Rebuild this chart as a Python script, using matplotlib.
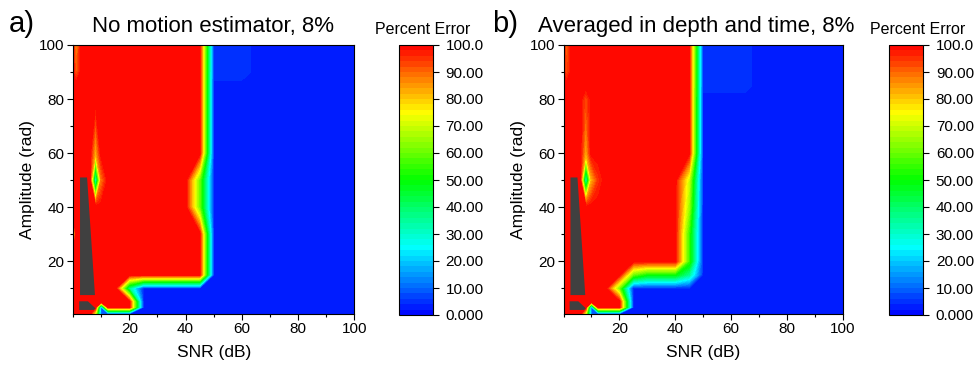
import numpy as np
import matplotlib
matplotlib.use("Agg")
import matplotlib.pyplot as plt
from matplotlib.colors import LinearSegmentedColormap
from matplotlib.ticker import MultipleLocator

plt.rcParams['font.family'] = ['Liberation Sans', 'DejaVu Sans']

# ---------------- data ----------------
snr = [0, 1, 3, 6, 8, 10, 12.5, 15, 20, 25, 30, 40, 45, 50, 60, 65, 70, 100]
amplitude = [0.5, 3, 5, 10, 15, 20, 30, 40, 50, 60, 80, 85, 90, 100]

# Percent error, panel a) (rows = amplitude, columns = SNR)
error_a = [
    [100, 100, 100, 100, 70, 10, 3.6, 3.6, 3.6, 3.6, 3.6, 3.6, 3.6, 3.6, 3.6, 3.6, 3.6, 3.6],
    [100, 100, 100, 100, 100, 10, 100, 100, 100, 3.6, 3.6, 3.6, 3.6, 3.6, 3.6, 3.6, 3.6, 3.6],
    [100, 100, 100, 100, 100, 100, 100, 100, 100, 3.6, 3.6, 3.6, 3.6, 3.6, 3.6, 3.6, 3.6, 3.6],
    [100, 100, 100, 100, 100, 100, 100, 100, 35, 3.6, 3.6, 3.6, 3.6, 3.6, 3.6, 3.6, 3.6, 3.6],
    [100, 100, 100, 100, 100, 100, 100, 100, 100, 100, 100, 100, 100, 3.6, 3.6, 3.6, 3.6, 3.6],
    [100, 100, 100, 100, 100, 100, 100, 100, 100, 100, 100, 100, 100, 3.6, 3.6, 3.6, 3.6, 3.6],
    [60, 100, 100, 100, 100, 100, 100, 100, 100, 100, 100, 100, 100, 3.6, 3.6, 3.6, 3.6, 3.6],
    [100, 100, 100, 100, 100, 100, 100, 100, 100, 100, 100, 100, 60, 3.6, 3.6, 3.6, 3.6, 3.6],
    [100, 100, 100, 100, 25, 88, 100, 100, 100, 100, 100, 100, 60, 3.6, 3.6, 3.6, 3.6, 3.6],
    [100, 100, 100, 100, 82, 100, 100, 100, 100, 100, 100, 100, 100, 3.6, 3.6, 3.6, 3.6, 3.6],
    [100, 100, 100, 100, 100, 100, 100, 100, 100, 100, 100, 100, 100, 3.6, 3.6, 3.6, 3.6, 3.6],
    [100, 100, 100, 100, 100, 100, 100, 100, 100, 100, 100, 100, 100, 3.6, 3.6, 3.6, 3.6, 3.6],
    [100, 90, 100, 100, 100, 100, 100, 100, 100, 100, 100, 100, 100, 4.6, 4.6, 3.6, 3.6, 3.6],
    [100, 85, 100, 100, 100, 100, 100, 100, 100, 100, 100, 100, 100, 4.6, 4.6, 3.6, 3.6, 3.6],
]

# Percent error, panel b)
error_b = [
    [100, 100, 100, 100, 70, 10, 3.6, 3.6, 3.6, 3.6, 3.6, 3.6, 3.6, 3.6, 3.6, 3.6, 3.6, 3.6],
    [100, 100, 100, 100, 100, 10, 100, 100, 100, 3.6, 3.6, 3.6, 3.6, 3.6, 3.6, 3.6, 3.6, 3.6],
    [100, 100, 100, 100, 100, 100, 100, 100, 100, 3.6, 3.6, 3.6, 3.6, 3.6, 3.6, 3.6, 3.6, 3.6],
    [100, 100, 100, 100, 100, 100, 100, 100, 60, 3.6, 3.6, 3.6, 3.6, 3.6, 3.6, 3.6, 3.6, 3.6],
    [100, 100, 100, 100, 100, 100, 100, 100, 100, 60, 50, 50, 35, 3.6, 3.6, 3.6, 3.6, 3.6],
    [100, 100, 100, 100, 100, 100, 100, 100, 100, 100, 100, 100, 55, 3.6, 3.6, 3.6, 3.6, 3.6],
    [60, 100, 100, 100, 100, 100, 100, 100, 100, 100, 100, 100, 55, 3.6, 3.6, 3.6, 3.6, 3.6],
    [100, 100, 100, 100, 100, 100, 100, 100, 100, 100, 100, 100, 65, 3.6, 3.6, 3.6, 3.6, 3.6],
    [100, 100, 100, 100, 25, 82, 95, 100, 100, 100, 100, 100, 70, 3.6, 3.6, 3.6, 3.6, 3.6],
    [100, 100, 100, 100, 82, 100, 100, 100, 100, 100, 100, 100, 100, 3.6, 3.6, 3.6, 3.6, 3.6],
    [100, 100, 100, 100, 92, 100, 100, 100, 100, 100, 100, 100, 100, 3.6, 3.6, 3.6, 3.6, 3.6],
    [100, 100, 100, 100, 100, 100, 100, 100, 100, 100, 100, 100, 100, 4.4, 4.4, 4.4, 3.6, 3.6],
    [100, 92, 100, 100, 100, 100, 100, 100, 100, 100, 100, 100, 100, 4.4, 4.4, 4.4, 3.6, 3.6],
    [100, 90, 100, 100, 100, 100, 100, 100, 100, 100, 100, 100, 100, 4.4, 4.4, 4.4, 3.6, 3.6],
]

# regions without data (drawn dark gray)
missing_main_snr = [2.5, 5.0, 7.8, 2.5]
missing_main_amp = [51.0, 51.0, 7.5, 7.5]
missing_small_snr = [2.2, 5.3, 8.0, 7.4, 2.2]
missing_small_amp = [5.2, 5.2, 2.6, 2.0, 2.0]

panel_letters = ["a)", "b)"]
panel_titles = ["No motion estimator, 8%", "Averaged in depth and time, 8%"]
cbar_ticks = [0, 10, 20, 30, 40, 50, 60, 70, 80, 90, 100]
cbar_ticklabels = ["0.000", "10.00", "20.00", "30.00", "40.00", "50.00",
                   "60.00", "70.00", "80.00", "90.00", "100.0"]
x_ticks = [20, 40, 60, 80, 100]
y_ticks = [20, 40, 60, 80, 100]

# ---------------- styling ----------------
W, H = 978, 369
cmap = LinearSegmentedColormap.from_list(
    "origin_rainbow", ["#0000ff", "#00ffff", "#00ff00", "#ffff00", "#ff0000"])
levels = np.linspace(0, 100, 51)

fig = plt.figure(figsize=(W / 100, H / 100), dpi=100)

def fx(px):
    return px / W

def fy(py):
    return 1 - py / H

axes_boxes = [(73, 354.5), (563.5, 842.5)]
cbar_boxes = [(399, 433), (889.3, 923.3)]
title_centers = [213.5, 696]
letter_x = [9, 492]
label_centers = [423, 918]

for i, err in enumerate([error_a, error_b]):
    x0, x1 = axes_boxes[i]
    ax = fig.add_axes([fx(x0), fy(314), fx(x1 - x0), 269 / H])
    cs = ax.contourf(snr, amplitude, np.array(err), levels=levels, cmap=cmap,
                     vmin=0, vmax=100)
    ax.fill(missing_main_snr, missing_main_amp, color="#404040", lw=0, zorder=3)
    ax.fill(missing_small_snr, missing_small_amp, color="#404040", lw=0, zorder=3)
    ax.set_xlim(0, 100)
    ax.set_ylim(0.5, 100)
    ax.set_xticks(x_ticks)
    ax.set_yticks(y_ticks)
    ax.xaxis.set_minor_locator(MultipleLocator(10))
    ax.yaxis.set_minor_locator(MultipleLocator(10))
    ax.tick_params(which="major", direction="out", length=4, width=0.8,
                   labelsize=11, pad=2)
    ax.tick_params(which="minor", direction="out", length=2.5, width=0.8)
    for sp in ax.spines.values():
        sp.set_linewidth(0.8)
        sp.set_zorder(5)
    ax.set_xlabel("SNR (dB)", fontsize=12.5, labelpad=6)
    ax.set_ylabel("Amplitude (rad)", fontsize=12.5, labelpad=3)

    c0, c1 = cbar_boxes[i]
    cax = fig.add_axes([fx(c0), fy(315), fx(c1 - c0), 270 / H])
    cb = fig.colorbar(cs, cax=cax, ticks=cbar_ticks)
    cb.ax.set_yticklabels(cbar_ticklabels)
    cb.ax.tick_params(direction="out", length=4, width=0.8, labelsize=11, pad=5)
    cb.ax.minorticks_off()
    cb.outline.set_linewidth(0.8)

    fig.text(fx(title_centers[i]), fy(32), panel_titles[i], fontsize=16,
             ha="center", va="baseline")
    fig.text(fx(letter_x[i]), fy(32), panel_letters[i], fontsize=21,
             ha="left", va="baseline")
    fig.text(fx(label_centers[i]), fy(34), "Percent Error", fontsize=11.5,
             ha="center", va="baseline")

fig.savefig("out.png", dpi=100)
